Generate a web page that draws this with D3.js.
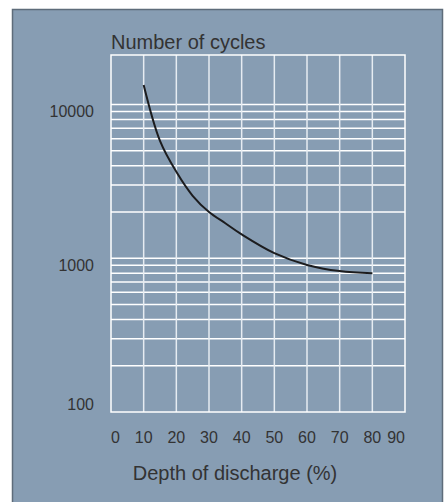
<!DOCTYPE html>
<html lang="en">
<head>
<meta charset="utf-8">
<title>Cycles vs depth of discharge</title>
<script src="https://d3js.org/d3.v7.min.js"></script>
<style>
body { margin: 0; background: #fff; }
text { font-family: "Liberation Sans", Arial, sans-serif; fill: #333; }
</style>
</head>
<body>
<svg width="445" height="502"></svg>
<script>
// data
var depth = [10, 15, 20, 25, 30, 35, 40, 50, 60, 70, 80];
var cycles = [13400, 5800, 3650, 2550, 2000, 1690, 1430, 1080, 905, 825, 800];
var xTicks = [0, 10, 20, 30, 40, 50, 60, 70, 80, 90];
var yLabels = [100, 1000, 10000];
var yGrid = [200, 300, 400, 500, 600, 700, 800, 900, 1000,
             2000, 3000, 4000, 5000, 6000, 7000, 8000, 9000, 10000];

var svg = d3.select("svg");

// panel
svg.append("rect")
  .attr("x", 12.5).attr("y", 9.5)
  .attr("width", 430).attr("height", 500)
  .attr("fill", "#879db3")
  .attr("stroke", "#5e6c7a")
  .attr("stroke-width", 1.5);

var plotL = 111, plotR = 405, plotT = 55, plotB = 412;

var x = d3.scaleLinear().domain([0, 90]).range([plotL, plotR]);
var y = d3.scaleLog().domain([100, 21000]).range([plotB, plotT]);

// grid
var grid = svg.append("g").attr("stroke", "#fff").attr("stroke-width", 1.5);
grid.selectAll("line.h")
  .data(yGrid)
  .enter().append("line")
    .attr("class", "h")
    .attr("x1", plotL).attr("x2", plotR)
    .attr("y1", function(d) { return y(d); })
    .attr("y2", function(d) { return y(d); });
grid.selectAll("line.v")
  .data(xTicks.slice(1, -1))
  .enter().append("line")
    .attr("class", "v")
    .attr("x1", function(d) { return x(d); })
    .attr("x2", function(d) { return x(d); })
    .attr("y1", plotT).attr("y2", plotB)
    .attr("stroke", "#e6ecf2");
grid.append("rect")
  .attr("x", plotL).attr("y", plotT)
  .attr("width", plotR - plotL).attr("height", plotB - plotT)
  .attr("fill", "none");

// y labels
svg.selectAll("text.ylab")
  .data(yLabels)
  .enter().append("text")
    .attr("class", "ylab")
    .attr("x", 94)
    .attr("y", function(d) { return y(d); })
    .attr("dy", function(d) { return d === 100 ? "-0.15em" : "0.78em"; })
    .attr("text-anchor", "end")
    .style("font-size", "16px")
    .text(function(d) { return d; });

// x labels
svg.selectAll("text.xlab")
  .data(xTicks)
  .enter().append("text")
    .attr("class", "xlab")
    .attr("x", function(d) { return x(d); })
    .attr("y", 443)
    .attr("text-anchor", function(d) {
      return d === 0 ? "start" : d === 90 ? "end" : "middle";
    })
    .style("font-size", "16px")
    .text(function(d) { return d; });

// titles
svg.append("text")
  .attr("x", plotL).attr("y", 49)
  .style("font-size", "20px")
  .text("Number of cycles");

svg.append("text")
  .attr("x", 235).attr("y", 480)
  .attr("text-anchor", "middle")
  .style("font-size", "20px")
  .text("Depth of discharge (%)");

// curve
var line = d3.line()
  .x(function(d, i) { return x(depth[i]); })
  .y(function(d) { return y(d); })
  .curve(d3.curveCatmullRom.alpha(0.5));

svg.append("path")
  .datum(cycles)
  .attr("d", line)
  .attr("fill", "none")
  .attr("stroke", "#1c1c1e")
  .attr("stroke-width", 2);
</script>
</body>
</html>
